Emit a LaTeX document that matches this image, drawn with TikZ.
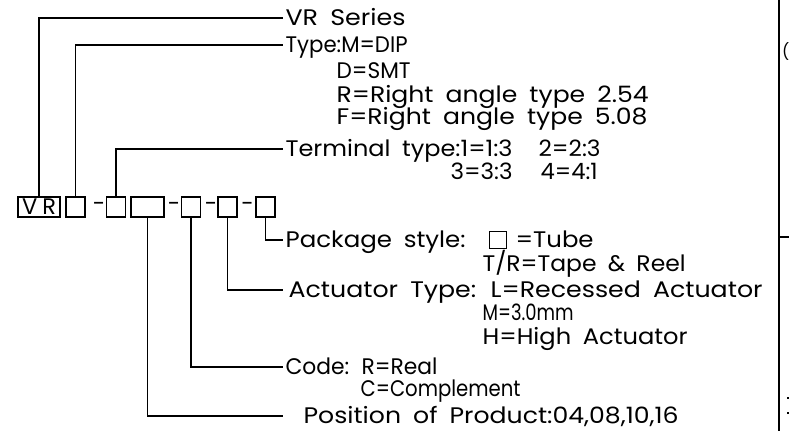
\documentclass[tikz,border=0pt]{standalone}
\usepackage{fontspec}
\usepackage{graphicx}
\setmainfont{Poppins}[WordSpace=1.8]
\newcommand{\fitto}[2]{\resizebox{#1pt}{\height}{#2}}
\begin{document}
\begin{tikzpicture}[x=1pt,y=-1pt,
  line width=1.2pt,
  lbl/.style={anchor=west, inner sep=0pt, text height=15pt, text depth=0pt,
    font=\fontsize{22.5}{26}\selectfont},
  cbox/.style={draw, inner sep=0pt, minimum width=19pt, minimum height=20pt,
    font=\fontsize{22.5}{26}\selectfont},
  dashlbl/.style={inner sep=0pt, font=\fontsize{22.5}{26}\selectfont}]
\useasboundingbox (0,0) rectangle (789,431);
% code boxes
\node[cbox, minimum width=42pt] (vr) at (39,207) {V\hspace{5pt}R};
\node[cbox] (b2) at (75.5,207) {};
\node[dashlbl] (d1) at (99,207) {-};
\node[cbox] (b3) at (116,207) {};
\node[cbox, minimum width=33pt] (b4) at (147.5,207) {};
\node[dashlbl] (d2) at (174,207) {-};
\node[cbox] (b5) at (191,207) {};
\node[dashlbl] (d3) at (211,207) {-};
\node[cbox] (b6) at (227.5,207) {};
\node[dashlbl] (d4) at (247.5,207) {-};
\node[cbox] (b7) at (265.5,207) {};
% leader ends
\coordinate (e1) at (283,18);
\coordinate (e2) at (283,45);
\coordinate (e3) at (283,149);
\coordinate (e4) at (283,240);
\coordinate (e5) at (283,290);
\coordinate (e6) at (283,367);
\coordinate (e7) at (283,416);
% texts
\node[lbl] (t1) at (285,18) {\fitto{120}{VR Series}};
\node[lbl] (t2) at (285,45) {\fitto{122}{Type:M=DIP}};
\node[lbl] (t2b) at (336,71) {\fitto{74}{D=SMT}};
\node[lbl] (t2c) at (336,95) {\fitto{312}{R=Right angle type 2.54}};
\node[lbl] (t2d) at (336,117) {\fitto{311}{F=Right angle type 5.08}};
\node[lbl] (t3) at (285,149) {\fitto{227}{Terminal type:1=1:3}};
\node[lbl] (t3b) at (538,149) {\fitto{62}{2=2:3}};
\node[lbl] (t3c) at (450,172) {\fitto{62}{3=3:3}};
\node[lbl] (t3d) at (540,172) {\fitto{57}{4=4:1}};
\node[lbl] (t4) at (285,240) {\fitto{180}{Package style:}};
\node[draw, inner sep=0pt, minimum size=17pt] (tube) at (498,240) {};
\node[lbl] (t4b) at (515,240) {\fitto{78}{=Tube}};
\node[lbl] (t4c) at (482,264) {\fitto{203}{T/R=Tape \& Reel}};
\node[lbl] (t5) at (288,290) {\fitto{474}{Actuator Type: L=Recessed Actuator}};
\node[lbl] (t5b) at (482,313) {\fitto{91}{M=3.0mm}};
\node[lbl] (t5c) at (482,337) {\fitto{205}{H=High Actuator}};
\node[lbl] (t6) at (285,367) {\fitto{152}{Code: R=Real}};
\node[lbl] (t6b) at (360,389) {\fitto{160}{C=Complement}};
\node[lbl] (t7) at (303,416) {\fitto{375}{Position of Product:04,08,10,16}};
% leaders
\draw (vr.north) |- (e1);
\draw (b2.north) |- (e2);
\draw (b3.north) |- (e3);
\draw (b7.south) |- (e4);
\draw (b6.south) |- (e5);
\draw (b5.south) |- (e6);
\draw (b4.south) |- (e7);
% right edge frame
\draw (779,0) -- (779,431);
\draw (779,237) -- (789,237);
\node[lbl, text height=12pt, font=\fontsize{16}{18}\selectfont] (par) at (781.5,51) {(};
\fill (787,397) rectangle (789,399);
\fill (787,412) rectangle (789,414);
\end{tikzpicture}
\end{document}
